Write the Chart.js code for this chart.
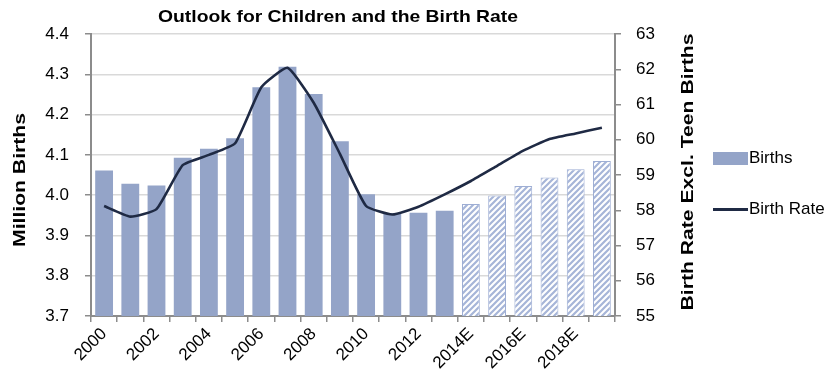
<!DOCTYPE html>
<html>
<head>
<meta charset="utf-8">
<script src="https://cdn.jsdelivr.net/npm/chart.js@4.4.1/dist/chart.umd.min.js"></script>
<style>
  html, body { margin: 0; padding: 0; background: #fff; }
  #wrap { position: relative; width: 830px; height: 377px; }
  #legend { position: absolute; left: 713px; top: 0; font-family: "Liberation Sans", Arial, sans-serif; font-size: 17px; color: #000; }
  .item { position: absolute; left: 0; white-space: nowrap; display: flex; align-items: center; }
  .box { width: 35px; height: 13px; background: #94a4c8; margin-right: 1px; }
  .line { width: 35px; height: 3px; background: #1f2a44; margin-right: 1px; }
</style>
</head>
<body>
<div id="wrap">
  <canvas id="chart" width="830" height="377"></canvas>
  <div id="legend">
    <div class="item" style="top:148px"><span class="box"></span>Births</div>
    <div class="item" style="top:199px"><span class="line"></span>Birth Rate</div>
  </div>
</div>
<script>
// Data
const years = ['2000','2001','2002','2003','2004','2005','2006','2007','2008','2009',
  '2010','2011','2012','2013','2014E','2015E','2016E','2017E','2018E','2019E'];
const births = [4.061, 4.028, 4.024, 4.093, 4.115, 4.141, 4.268, 4.319, 4.251, 4.134,
  4.002, 3.955, 3.956, 3.961, 3.978, 3.999, 4.023, 4.044, 4.064, 4.085];
const birthRate = [58.12, 57.82, 58.03, 59.28, 59.57, 59.9, 61.49, 62.04, 61.05, 59.6,
  58.12, 57.88, 58.1, 58.45, 58.83, 59.26, 59.69, 60.02, 60.18, 60.34];
const leftTicks = [3.7, 4.4, 0.1];   // min, max, step
const rightTicks = [55, 63, 1];

const FONT = '"Liberation Sans", Arial, sans-serif';
const solid = '#94a4c8';

// hatch pattern for estimated years
const pc = document.createElement('canvas');
pc.width = 6; pc.height = 6;
const g = pc.getContext('2d');
g.fillStyle = '#ffffff';
g.fillRect(0, 0, 6, 6);
g.strokeStyle = '#a6b5d8';
g.lineWidth = 2.2;
g.beginPath();
g.moveTo(0, 6); g.lineTo(6, 0);
g.moveTo(-3, 3); g.lineTo(3, -3);
g.moveTo(3, 9); g.lineTo(9, 3);
g.stroke();
const hatch = g.createPattern(pc, 'repeat');

const isEst = years.map(y => y.endsWith('E'));

// bold heading text in the reference is wide, so stretch to a target width
function fitText(c, text, x, y, width, rot) {
  c.save();
  c.translate(x, y);
  if (rot) c.rotate(rot);
  const w = c.measureText(text).width;
  c.scale(width / w, 1);
  c.fillText(text, 0, 0);
  c.restore();
}

const titles = {
  id: 'titles',
  afterDraw(chart) {
    const c = chart.ctx;
    c.save();
    c.fillStyle = '#000';
    c.textAlign = 'center';
    c.textBaseline = 'middle';
    c.font = 'bold 17px ' + FONT;
    fitText(c, 'Outlook for Children and the Birth Rate', 338, 17, 360, 0);
    fitText(c, 'Million Births', 20, 180, 134, -Math.PI / 2);
    fitText(c, 'Birth Rate Excl. Teen Births', 688, 172, 277, -Math.PI / 2);
    c.restore();
  }
};

const tickFont = { family: FONT, size: 17 };
const axisGrey = '#8c8c8c';

new Chart(document.getElementById('chart'), {
  data: {
    labels: years,
    datasets: [{
      type: 'line',
      label: 'Birth Rate',
      data: birthRate,
      yAxisID: 'y1',
      borderColor: '#1f2a44',
      borderWidth: 2.6,
      pointRadius: 0,
      tension: 0.15,
      order: 0
    }, {
      type: 'bar',
      label: 'Births',
      data: births,
      yAxisID: 'y',
      backgroundColor: isEst.map(e => e ? hatch : solid),
      borderColor: isEst.map(e => e ? '#9eaed4' : solid),
      borderWidth: isEst.map(e => e ? 1 : 0),
      barPercentage: 0.68,
      categoryPercentage: 1,
      order: 1
    }]
  },
  options: {
    responsive: false,
    animation: false,
    layout: { padding: { top: 34, right: 115, left: 0, bottom: 0 } },
    plugins: { legend: { display: false }, tooltip: { enabled: false }, title: { display: false } },
    scales: {
      x: {
        grid: { drawOnChartArea: false, offset: true, tickLength: 6, color: axisGrey, lineWidth: 1.5 },
        border: { color: axisGrey, width: 2 },
        ticks: {
          autoSkip: false, maxRotation: 45, minRotation: 45, color: '#000', font: tickFont, padding: 2,
          callback: (v, i) => i % 2 === 0 ? years[i] : ''
        },
        afterFit: s => { s.height = 61; }
      },
      y: {
        position: 'left',
        min: leftTicks[0], max: leftTicks[1],
        grid: { color: '#d9d9d9', lineWidth: 1.5, tickColor: axisGrey, tickLength: 6 },
        border: { color: axisGrey, width: 2 },
        ticks: { stepSize: leftTicks[2], color: '#000', font: tickFont, padding: 16, callback: v => v.toFixed(1) },
        afterFit: s => { s.width = 91; }
      },
      y1: {
        position: 'right',
        min: rightTicks[0], max: rightTicks[1],
        grid: { drawOnChartArea: false, tickColor: axisGrey, tickLength: 6, lineWidth: 1.5 },
        border: { color: axisGrey, width: 2 },
        ticks: { stepSize: rightTicks[2], color: '#000', font: tickFont, padding: 15 },
        afterFit: s => { s.width = 100; }
      }
    }
  },
  plugins: [titles]
});
</script>
</body>
</html>
